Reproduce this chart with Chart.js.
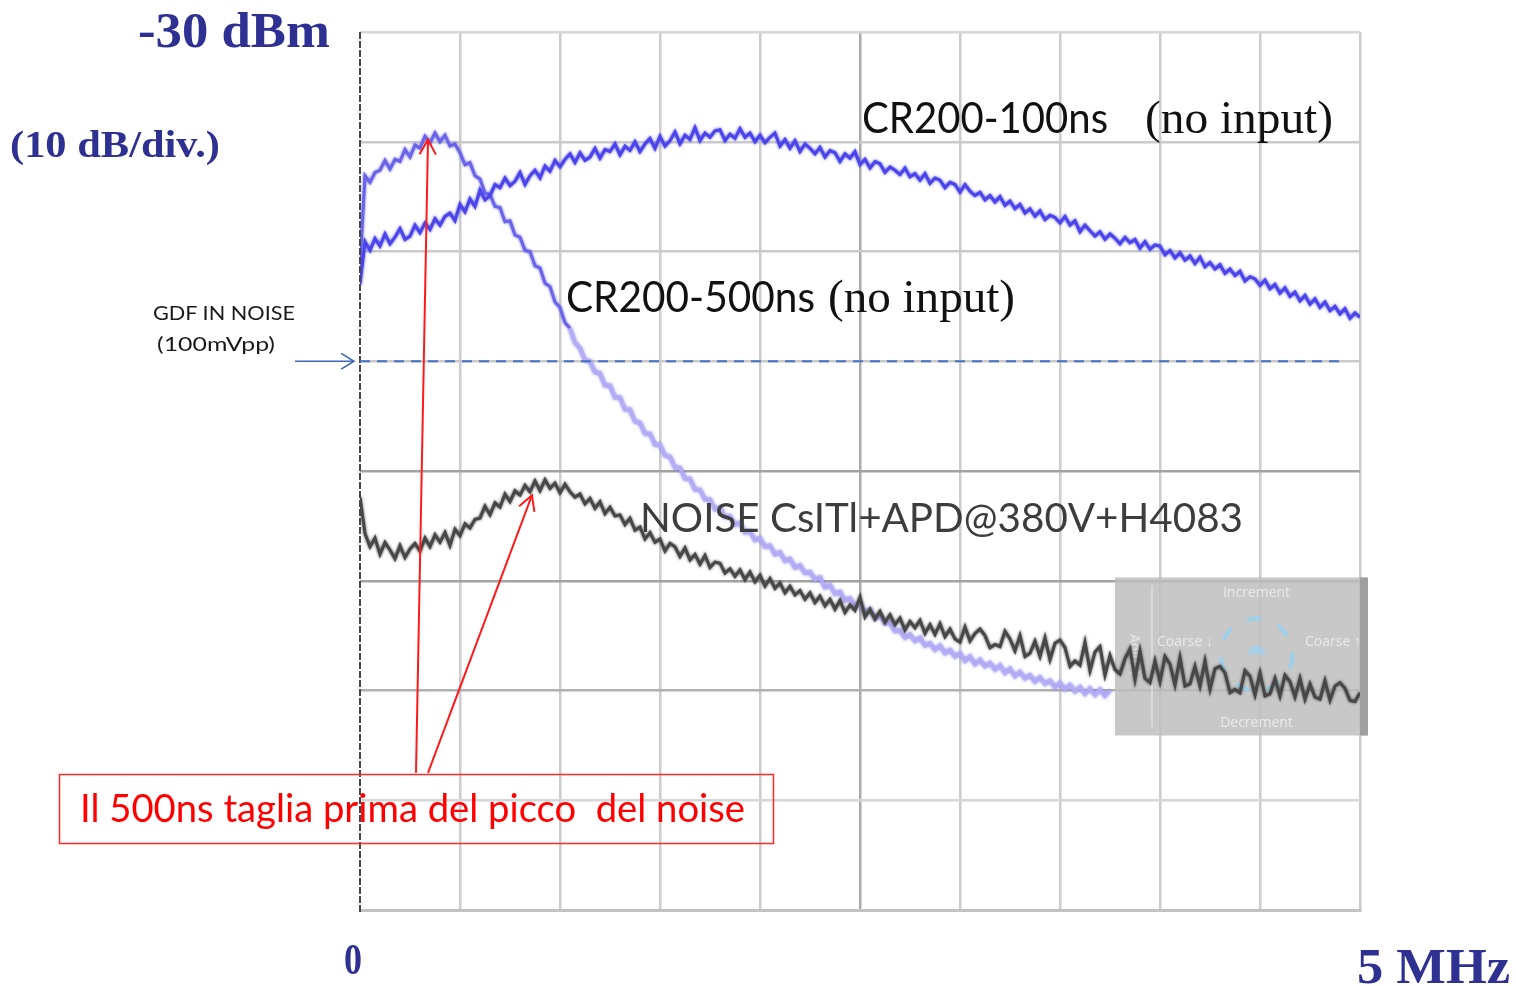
<!DOCTYPE html>
<html>
<head>
<meta charset="utf-8">
<script src="https://cdn.jsdelivr.net/npm/chart.js@4.4.1/dist/chart.umd.min.js"></script>
<style>
  html, body { margin: 0; padding: 0; background: #ffffff; }
  #wrap { position: relative; width: 1516px; height: 986px; overflow: hidden; }
  #c { position: absolute; left: 0; top: 0; }
  #ov { position: absolute; left: 0; top: 0; pointer-events: none; }
</style>
</head>
<body>
<div id="wrap">
  <canvas id="c" width="1516" height="986"></canvas>
  <svg id="ov" width="1516" height="986" xmlns="http://www.w3.org/2000/svg"></svg>
</div>
<script>
// ---------------- DATA ----------------
// Frequency axis: 0 .. 5 MHz, 0.5 MHz/div ; level axis: -30 dBm top, 10 dB/div, 8 divisions
const xMin = 0, xMax = 5, xStep = 0.5;
const yMin = -110, yMax = -30, yStep = 10;
const yTopLabel = '-30 dBm';
const yScaleLabel = '(10 dB/div.)';
const xStartLabel = '0';
const xEndLabel = '5 MHz';

// sample spacing of the traces, 0.025 MHz
const sampleStep = 0.025;

// CR200-100ns (no input)
const cr100ns = [
  -53.0, -49.1, -49.9, -48.8,  -49.5, -48.4, -49.3, -48.7,  -47.9, -48.9, -48.6, -47.6,
  -48.3, -47.4, -48.0, -47.0,  -47.6, -46.8, -46.5, -47.2,  -45.7, -46.4, -45.2, -45.9,
  -44.4, -45.3, -44.9, -43.9,  -44.2, -43.3, -44.0, -43.6,  -42.8, -43.9, -43.1, -42.6,
  -43.3, -42.2, -42.7, -41.7,  -42.3, -41.6, -41.1, -41.9,  -41.0, -41.7, -41.4, -40.6,
  -41.5, -40.7, -40.9, -40.2,  -41.2, -40.4, -40.8, -40.0,  -40.9, -40.2, -39.7, -40.6,
  -39.5, -40.4, -39.9, -39.1,  -40.2, -39.4, -39.8, -38.7,  -39.9, -39.2, -39.6, -39.0,
  -38.9, -39.9, -39.3, -39.7,  -38.8, -39.6, -39.2, -40.0,  -39.4, -40.1, -39.6, -39.2,
  -40.4, -39.8, -40.6, -39.9,  -40.9, -40.2, -40.6, -41.1,  -40.5, -41.4, -40.8, -41.0,
  -41.8, -41.1, -41.5, -40.9,  -42.1, -41.6, -42.4, -41.8,  -42.0, -42.8, -42.3, -42.6,
  -43.0, -42.4, -43.2, -42.9,  -43.5, -42.9, -43.8, -43.3,  -43.5, -44.2, -43.7, -43.9,
  -44.6, -43.9, -44.5, -44.9,  -44.6, -45.3, -44.9, -45.5,  -45.0, -45.8, -45.4, -46.1,
  -45.7, -46.5, -46.1, -46.8,  -46.3, -47.1, -46.7, -46.9,  -47.4, -46.8, -47.6, -47.2,
  -48.2, -47.6, -48.1, -48.6,  -48.2, -48.9, -48.4, -48.8,  -49.3, -48.7, -49.2, -48.9,
  -49.7, -49.1, -49.8, -49.4,  -49.5, -50.3, -49.9, -50.6,  -50.1, -50.8, -50.4, -51.1,
  -50.5, -51.4, -51.0, -51.6,  -51.2, -52.0, -51.6, -52.2,  -51.8, -52.7, -52.3, -52.5,
  -53.1, -52.6, -53.4, -53.0,  -53.8, -53.3, -54.1, -53.7,  -54.5, -54.0, -54.8, -54.3,
  -55.1, -54.6, -55.4, -55.0,  -55.7, -55.2, -56.1, -55.6,  -56.0
];

// CR200-500ns (no input) - trace becomes faint after ~1.1 MHz, hidden behind the overlay after ~3.75 MHz
const cr500ns = [
  -51.2, -43.1, -43.7, -42.8,  -42.6, -41.7, -42.5, -41.6,  -41.8, -40.7, -41.4, -40.3,
  -40.6, -39.5, -40.1, -39.2,  -40.0, -39.4, -40.4, -40.2,  -41.0, -42.1, -41.9, -43.1,
  -43.4, -44.7, -44.8, -45.9,  -46.0, -47.3, -47.2, -48.5,  -48.7, -49.9, -50.0, -51.3,
  -51.5, -52.9, -53.2, -54.6,  -55.1, -56.5, -57.0, -58.3,  -58.8, -59.9, -60.0, -61.0,
  -61.1, -62.2, -62.2, -63.3,  -63.3, -64.4, -64.4, -65.5,  -65.6, -66.6, -66.6, -67.6,
  -67.6, -68.6, -68.7, -69.7,  -69.7, -70.7, -70.7, -71.7,  -71.7, -72.6, -72.6, -73.5,
  -73.3, -74.2, -74.1, -74.9,  -74.7, -75.6, -75.5, -76.3,  -76.1, -76.9, -76.8, -77.6,
  -77.4, -78.2, -78.0, -78.8,  -78.6, -79.3, -79.2, -79.9,  -79.7, -80.6, -80.4, -81.2,
  -81.0, -81.8, -81.6, -82.3,  -82.1, -82.9, -82.6, -83.4,  -83.1, -83.9, -83.8, -84.6,
  -84.5, -85.2, -84.9, -85.5,  -85.2, -85.9, -85.7, -86.3,  -85.9, -86.6, -86.3, -86.9,
  -86.6, -87.3, -86.9, -87.6,  -87.2, -87.8, -87.5, -88.1,  -87.7, -88.4, -88.0, -88.7,
  -88.3, -88.9, -88.6, -89.2,  -88.8, -89.4, -89.1, -89.7,  -89.3, -89.9, -89.5, -90.1,
  -89.7, -90.3, -89.8, -90.4,  -89.9, -90.5, -90.0
];

// NOISE CsITl+APD@380V+H4083
const noiseCsI = [
  -72.4, -75.7, -76.9, -76.1,  -77.6, -76.5, -77.2, -78.0,  -76.8, -77.9, -77.1, -76.6,
  -77.3, -76.1, -76.9, -75.8,  -76.5, -75.6, -76.8, -75.3,  -75.9, -74.8, -75.2, -74.4,
  -74.3, -73.2, -74.0, -72.9,  -73.3, -72.1, -72.8, -71.8,  -72.2, -71.3, -71.9, -70.9,
  -71.8, -70.8, -71.6, -71.1,  -72.0, -71.2, -71.9, -72.4,  -72.1, -73.0, -72.5, -73.4,
  -72.8, -73.9, -73.3, -74.1,  -74.0, -74.9, -74.3, -75.4,  -75.1, -76.2, -75.6, -76.5,
  -76.2, -77.3, -76.6, -76.9,  -77.8, -77.0, -78.1, -77.6,  -78.5, -77.7, -78.8, -78.3,
  -78.4, -79.3, -78.9, -79.6,  -79.0, -79.9, -79.2, -80.1,  -79.5, -80.5, -79.8, -80.7,
  -80.2, -81.1, -80.5, -81.3,  -80.9, -81.7, -81.1, -82.0,  -81.4, -82.3, -81.7, -82.6,
  -81.8, -82.9, -82.2, -82.7,  -81.5, -83.3, -82.6, -83.5,  -82.8, -83.8, -83.1, -84.0,
  -83.4, -84.5, -83.7, -84.3,  -83.6, -84.8, -84.0, -84.9,  -83.9, -85.1, -84.4, -85.3,
  -85.6, -84.2, -85.5, -84.8,  -84.4, -85.0, -86.1, -85.8,  -86.0, -84.6, -85.3, -86.4,
  -85.0, -86.9, -86.6, -85.5,  -86.9, -85.2, -87.2, -85.7,  -85.4, -86.1, -87.8, -87.3,
  -87.7, -85.6, -88.2, -86.5,  -86.0, -88.6, -86.8, -88.1,  -88.5, -87.1, -86.2, -89.0,
  -86.4, -88.9, -89.3, -87.3,  -89.2, -86.9, -87.6, -89.5,  -87.0, -89.6, -89.4, -87.8,
  -89.6, -87.3, -89.9, -88.0,  -87.8, -88.4, -90.2, -89.9,  -90.2, -88.2, -88.7, -90.4,
  -88.4, -90.5, -90.3, -88.9,  -90.5, -88.6, -89.2, -90.6,  -88.9, -90.8, -89.4, -90.6,
  -90.8, -89.1, -90.9, -89.6,  -89.3, -89.8, -90.9, -91.0,  -90.2
];

const seriesNames = ['CR200-100ns', 'CR200-500ns', 'NOISE CsITl+APD@380V+H4083'];

// annotation anchors in data units (MHz, dBm)
const gdfLevel = -60;          // GDF IN NOISE (100mVpp)
const gdfLineEnd = 4.925;
const arrow500Tip = [0.34, -39.8];   // peak of the 500ns trace
const arrowNoiseTip = [0.86, -72.2]; // peak of the noise trace
const arrowTail1 = [0.28, -97.5];
const arrowTail2 = [0.34, -97.5];

// ---------------- CHART ----------------
const toPts = arr => arr.map((v, i) => ({ x: +(i * sampleStep).toFixed(3), y: v }));

const gridColorY = ctx => {
  const v = ctx.tick.value;
  if (v === -70 || v === -80) return '#a2a2a2';
  if (v === -90) return '#b0b0b0';
  if (v === -100 || v === -30) return '#d6d6d6';
  return '#cacaca';
};
const gridColorX = ctx => {
  const v = ctx.tick.value;
  if (v === 0) return 'rgba(0,0,0,0)';
  if (Math.abs(v - 2.5) < 1e-6) return '#ababab';
  return '#cccccc';
};

function arrowHead(ctx, x0, y0, x1, y1, len, ang) {
  const a = Math.atan2(y1 - y0, x1 - x0);
  ctx.beginPath();
  ctx.moveTo(x1 - len * Math.cos(a - ang), y1 - len * Math.sin(a - ang));
  ctx.lineTo(x1, y1);
  ctx.lineTo(x1 - len * Math.cos(a + ang), y1 - len * Math.sin(a + ang));
  ctx.stroke();
}

// soft, slightly blurred trace look (like the screenshot)
const softTracePlugin = {
  id: 'softTrace',
  beforeDatasetDraw(chart, args) {
    const ctx = chart.ctx;
    ctx.save();
    ctx.shadowColor = args.meta.dataset.options.borderColor;
    ctx.shadowBlur = 3;
  },
  afterDatasetDraw(chart) {
    chart.ctx.restore();
  }
};

const overlayBoxPlugin = {
  id: 'overlayBox',
  beforeDatasetsDraw(chart) {
    const { ctx, scales: { x, y } } = chart;
    const l = x.getPixelForValue(3.775), r = x.getPixelForValue(5.04);
    const t = y.getPixelForValue(-79.7), b = y.getPixelForValue(-94.1);
    ctx.save();
    ctx.fillStyle = 'rgba(190,190,190,0.85)';
    ctx.fillRect(l, t, r - l, b - t);
    ctx.fillStyle = 'rgba(150,150,150,0.8)';
    ctx.fillRect(r - 8, t, 8, b - t);
    ctx.strokeStyle = 'rgba(235,235,235,0.7)';
    ctx.lineWidth = 1.5;
    ctx.beginPath(); ctx.moveTo(l + 37, t + 8); ctx.lineTo(l + 37, b - 8); ctx.stroke();
    const cx = (l + r) / 2 + 15, cy = (t + b) / 2 - 2;
    ctx.strokeStyle = 'rgba(150,210,245,0.85)';
    ctx.lineWidth = 4;
    ctx.setLineDash([14, 18]);
    ctx.beginPath(); ctx.arc(cx, cy, 36, 0, Math.PI * 2); ctx.stroke();
    ctx.setLineDash([]);
    ctx.fillStyle = 'rgba(150,210,245,0.6)';
    ctx.beginPath(); ctx.arc(cx, cy, 9, Math.PI, 0); ctx.fill();
    ctx.fillStyle = 'rgba(245,245,245,0.75)';
    ctx.font = '14px "Open Sans"';
    ctx.textAlign = 'center';
    ctx.fillText('Increment', cx, t + 20);
    ctx.fillText('Decrement', cx, b - 8);
    ctx.fillText('Coarse \u2193', l + 70, cy - 8);
    ctx.fillText('Coarse \u2191', r - 35, cy - 8);
    ctx.save();
    ctx.translate(l + 20, cy);
    ctx.rotate(Math.PI / 2);
    ctx.fillText('Adjust', 0, 5);
    ctx.restore();
    ctx.restore();
  },
  afterDatasetsDraw(chart) {
    const { ctx, scales: { x, y } } = chart;
    ctx.save();
    // left axis line (dark)
    ctx.strokeStyle = '#474747';
    ctx.lineWidth = 2;
    ctx.setLineDash([7, 2]);
    ctx.beginPath();
    ctx.moveTo(x.getPixelForValue(0), y.getPixelForValue(yMax));
    ctx.lineTo(x.getPixelForValue(0), y.getPixelForValue(yMin) + 4);
    ctx.stroke();
    // GDF IN NOISE level
    const yl = y.getPixelForValue(gdfLevel);
    ctx.strokeStyle = '#4472c4';
    ctx.lineWidth = 2;
    ctx.setLineDash([10, 7]);
    ctx.beginPath();
    ctx.moveTo(x.getPixelForValue(0), yl);
    ctx.lineTo(x.getPixelForValue(gdfLineEnd), yl);
    ctx.stroke();
    ctx.setLineDash([]);
    // arrow pointing to the level
    ctx.strokeStyle = '#3d68b5';
    ctx.lineWidth = 1.6;
    const ax0 = x.getPixelForValue(-0.325), ax1 = x.getPixelForValue(-0.03);
    ctx.beginPath(); ctx.moveTo(ax0, yl); ctx.lineTo(ax1, yl); ctx.stroke();
    arrowHead(ctx, ax0, yl, ax1, yl, 15, 0.55);
    // red arrows
    ctx.strokeStyle = '#ff1a1a';
    ctx.lineWidth = 2;
    [[arrowTail1, arrow500Tip], [arrowTail2, arrowNoiseTip]].forEach(([p0, p1]) => {
      const x0 = x.getPixelForValue(p0[0]), y0 = y.getPixelForValue(p0[1]);
      const x1 = x.getPixelForValue(p1[0]), y1 = y.getPixelForValue(p1[1]);
      ctx.beginPath(); ctx.moveTo(x0, y0); ctx.lineTo(x1, y1); ctx.stroke();
      arrowHead(ctx, x0, y0, x1, y1, 17, 0.5);
    });
    ctx.restore();
  }
};

const strong500 = '#6a64e8';
const faint500 = 'rgba(185,176,246,0.85)';

new Chart(document.getElementById('c'), {
  type: 'line',
  data: {
    datasets: [
      { label: seriesNames[2], data: toPts(noiseCsI), borderColor: '#474747', borderWidth: 3, order: 0 },
      { label: seriesNames[0], data: toPts(cr100ns), borderColor: '#4a44ea', borderWidth: 3, order: 1 },
      { label: seriesNames[1], data: toPts(cr500ns), borderColor: strong500, borderWidth: 3, order: 2,
        segment: {
          borderColor: c => (c.p0.parsed.x >= 1.05 ? faint500 : strong500),
          borderWidth: c => (c.p0.parsed.x >= 1.05 ? 4 : 3)
        } }
    ]
  },
  options: {
    responsive: false,
    animation: false,
    devicePixelRatio: 1,
    layout: { padding: { left: 360, right: 156, top: 32, bottom: 76 } },
    plugins: { legend: { display: false }, tooltip: { enabled: false } },
    elements: { point: { radius: 0 }, line: { tension: 0, fill: false } },
    scales: {
      x: {
        type: 'linear', min: xMin, max: xMax,
        ticks: { display: false, stepSize: xStep },
        grid: { color: gridColorX, lineWidth: 2.5, drawTicks: false },
        border: { display: true, color: '#c2c2c2', width: 3 }
      },
      y: {
        type: 'linear', min: yMin, max: yMax,
        ticks: { display: false, stepSize: yStep },
        grid: { color: gridColorY, lineWidth: 2.5, drawTicks: false },
        border: { display: false }
      }
    }
  },
  plugins: [softTracePlugin, overlayBoxPlugin]
});

// ---------------- TEXT (real SVG text) ----------------
const SVGNS = 'http://www.w3.org/2000/svg';
const ov = document.getElementById('ov');
const serif = '"Liberation Serif", "Times New Roman", serif';
const sans = 'Lato, "Open Sans", sans-serif';
const blue = '#2e3192';
const labels = [
  { t: yTopLabel, x: 138, y: 47, w: 192, f: `bold 50px ${serif}`, c: blue },
  { t: yScaleLabel, x: 10, y: 157, w: 210, f: `bold 38px ${serif}`, c: blue },
  { t: 'GDF IN NOISE', x: 153, y: 320, w: 142, f: `19px ${sans}`, c: '#1a1a1a' },
  { t: '(100mVpp)', x: 157, y: 351, w: 118, f: `19px ${sans}`, c: '#1a1a1a' },
  { t: seriesNames[0], x: 862, y: 133, w: 246, f: `42px ${sans}`, c: '#111111' },
  { t: '(no input)', x: 1145, y: 133, w: 188, f: `46px ${serif}`, c: '#111111' },
  { t: seriesNames[1], x: 566, y: 312, w: 249, f: `42px ${sans}`, c: '#111111' },
  { t: '(no input)', x: 828, y: 312, w: 187, f: `46px ${serif}`, c: '#111111' },
  { t: seriesNames[2], x: 640, y: 532, w: 603, f: `41px ${sans}`, c: '#3d3d3d' },
  { t: 'Il 500ns taglia prima del picco  del noise', x: 80, y: 822, w: 665, f: `39px ${sans}`, c: '#ff0000' },
  { t: xStartLabel, x: 344, y: 974, w: 18, f: `bold 44px ${serif}`, c: blue },
  { t: xEndLabel, x: 1357, y: 983, w: 153, f: `bold 50px ${serif}`, c: blue }
];
// red annotation frame
const rect = document.createElementNS(SVGNS, 'rect');
rect.setAttribute('x', 59.5); rect.setAttribute('y', 774.5);
rect.setAttribute('width', 714); rect.setAttribute('height', 69);
rect.setAttribute('fill', 'none'); rect.setAttribute('stroke', '#ff2a2a'); rect.setAttribute('stroke-width', 1.5);
ov.appendChild(rect);
labels.forEach(L => {
  const el = document.createElementNS(SVGNS, 'text');
  el.setAttribute('x', L.x);
  el.setAttribute('y', L.y);
  el.setAttribute('textLength', L.w);
  el.setAttribute('lengthAdjust', 'spacingAndGlyphs');
  el.setAttribute('fill', L.c);
  el.setAttribute('style', `font:${L.f}; white-space:pre;`);
  el.setAttribute('xml:space', 'preserve');
  el.textContent = L.t;
  ov.appendChild(el);
});
</script>
</body>
</html>
